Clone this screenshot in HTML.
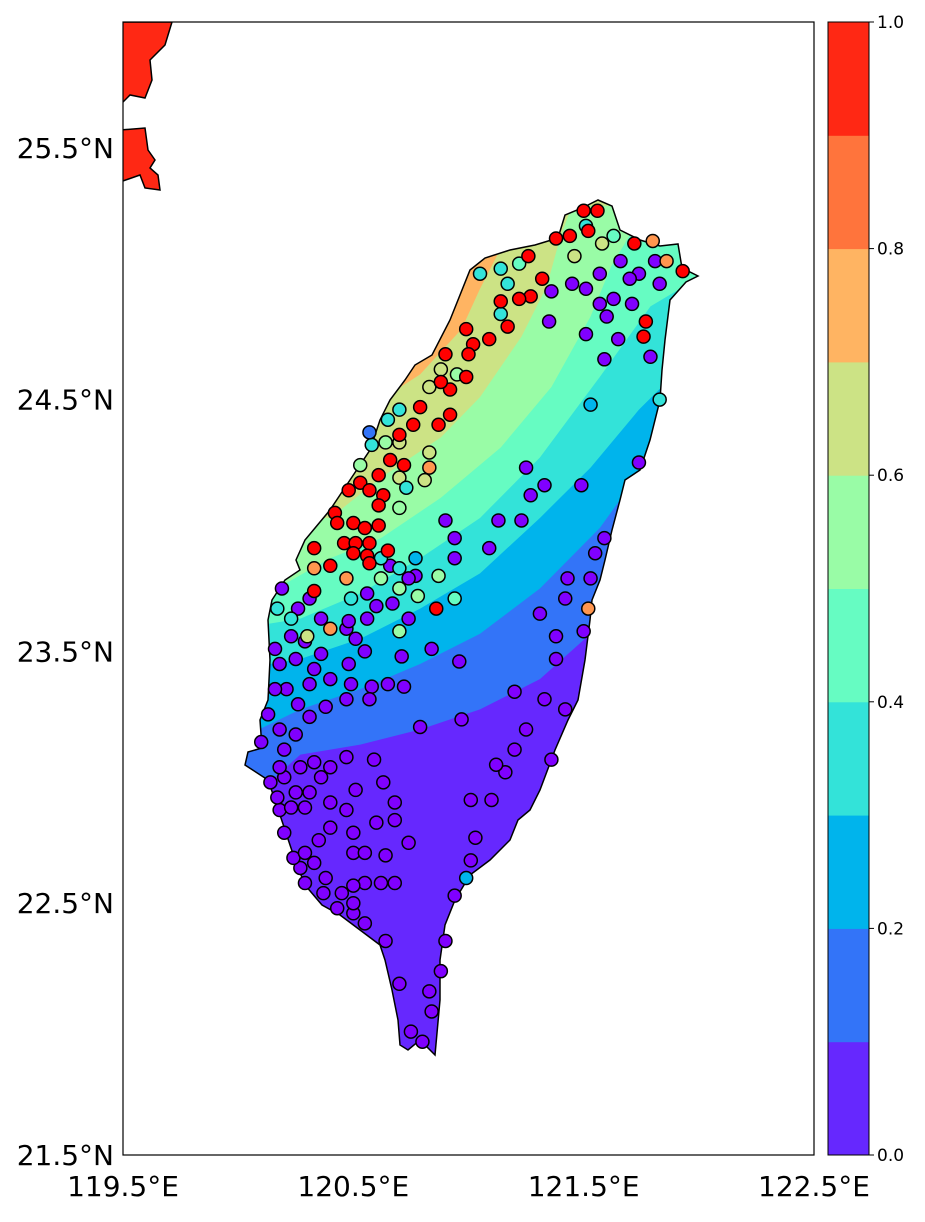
<!DOCTYPE html>
<html><head><meta charset="utf-8"><style>
body{margin:0;background:#fff}
svg text{font-family:"DejaVu Sans","Liberation Sans",sans-serif}
</style></head><body>
<svg id="s" width="925" height="1217" viewBox="0 0 925 1217" xmlns="http://www.w3.org/2000/svg">
<defs>
<clipPath id="tw"><path id="twp" d="M582,208 L598,200 L612,206 L620,230 L640,240 L660,246 L678,244 L682,268 L698,276 L686,282 L670,300 L665,340 L662,370 L660,400 L650,440 L640,470 L625,480 L620,500 L612,530 L605,560 L600,580 L592,600 L590,620 L585,660 L578,700 L568,720 L555,750 L540,790 L530,810 L518,820 L510,840 L490,860 L470,875 L455,900 L445,925 L440,960 L440,1000 L435,1055 L420,1040 L408,1050 L400,1045 L398,1020 L392,990 L385,960 L380,945 L360,930 L340,915 L322,905 L305,885 L295,860 L285,830 L275,800 L268,780 L245,765 L248,752 L262,748 L260,720 L268,700 L270,660 L268,620 L272,600 L285,580 L300,570 L296,560 L305,540 L330,510 L350,480 L370,450 L380,420 L390,400 L405,380 L415,365 L432,355 L450,320 L460,295 L470,270 L485,258 L510,250 L535,245 L558,238 L565,215 Z"/></clipPath>
<clipPath id="ax"><rect x="123" y="22" width="691" height="1133"/></clipPath>
</defs>
<g id="bands" clip-path="url(#tw)"></g>
<use href="#twp" fill="none" stroke="#000" stroke-width="1.5"/>
<g clip-path="url(#ax)">
<path d="M120,22 L172,22 L165,45 L150,60 L152,80 L145,98 L130,95 L123,102 L120,102 Z" fill="#ff2814" stroke="#000" stroke-width="1.5"/>
<path d="M120,130 L145,128 L148,150 L155,160 L150,168 L158,175 L160,190 L145,188 L140,175 L120,182 Z" fill="#ff2814" stroke="#000" stroke-width="1.5"/>
</g>
<g id="dots"></g>
<rect x="123" y="22" width="691" height="1133" fill="none" stroke="#000" stroke-width="1.2"/>
<g id="axes"></g>
<g id="cbar"></g>
</svg>
<script>
const levels=[0,0.1,0.2,0.3,0.4,0.5,0.6,0.7,0.8,0.9,1.0];
const latTicks=[25.5,24.5,23.5,22.5,21.5];
const lonTicks=[119.5,120.5,121.5,122.5];
const cbarTicks=[0,0.2,0.4,0.6,0.8,1.0];
// contour boundaries (lon,lat) for level 0.1..0.7
const bounds=[
[[120.0,22.87],[120.27,23.09],[120.53,23.13],[120.79,23.19],[121.05,23.27],[121.31,23.39],[121.53,23.57],[121.57,23.63]],
[[120.0,23.15],[120.27,23.27],[120.53,23.35],[120.79,23.45],[121.05,23.57],[121.31,23.75],[121.57,23.99],[121.79,24.27],[121.92,24.43]],
[[120.0,23.43],[120.27,23.47],[120.53,23.55],[120.79,23.67],[121.05,23.81],[121.31,24.03],[121.53,24.23],[121.74,24.46],[121.96,24.66]],
[[120.0,23.59],[120.27,23.63],[120.53,23.73],[120.79,23.87],[121.05,24.03],[121.31,24.27],[121.57,24.59],[121.79,24.87],[122.01,24.99],[122.1,24.99]],
[[120.09,23.71],[120.40,23.87],[120.62,23.95],[120.88,24.11],[121.14,24.31],[121.36,24.55],[121.53,24.83],[121.62,25.03],[121.75,25.23],[121.8,25.43]],
[[120.40,24.03],[120.62,24.19],[120.88,24.35],[121.05,24.51],[121.23,24.75],[121.34,24.95],[121.40,25.15],[121.45,25.27]],
[[120.62,24.50],[120.79,24.60],[120.97,24.78],[121.05,24.94],[121.14,25.10],[121.18,25.6]]
];
// station data
const redPts=[[121.50,25.25],[121.56,25.25],[121.52,25.17],[121.44,25.15],[121.38,25.14],[121.26,25.07],[121.32,24.98],[121.27,24.91],[121.22,24.90],[121.14,24.89],[121.17,24.79],[121.09,24.74],[121.02,24.72],[120.99,24.78],[120.90,24.68],[121.00,24.68],[120.99,24.59],[120.92,24.54],[120.88,24.57],[120.79,24.47],[120.76,24.40],[120.87,24.40],[120.70,24.36],[120.66,24.26],[120.72,24.24],[120.61,24.20],[120.53,24.17],[120.48,24.14],[120.57,24.14],[120.63,24.12],[120.61,24.08],[120.42,24.05],[120.43,24.01],[120.50,24.01],[120.55,23.99],[120.61,24.00],[120.46,23.93],[120.51,23.93],[120.57,23.93],[120.65,23.90],[120.56,23.88],[120.50,23.89],[120.57,23.85],[120.33,23.91],[120.40,23.84],[120.33,23.74],[120.86,23.67],[120.92,24.44],[121.72,25.12],[121.77,24.81],[121.76,24.75],[121.93,25.01]];
const otherPts=[[121.86,25.05,0.8],[121.80,25.13,0.8],[120.83,24.23,0.8],[120.47,23.79,0.8],[120.40,23.59,0.8],[120.33,23.83,0.8],[121.52,23.67,0.8],
[121.46,25.07,0.65],[121.58,25.12,0.65],[120.88,24.62,0.65],[120.95,24.60,0.55],[120.83,24.55,0.65],[120.70,24.33,0.65],[120.64,24.33,0.55],[120.83,24.29,0.65],[120.81,24.18,0.65],[120.70,24.19,0.65],[120.70,24.07,0.55],[120.53,24.24,0.55],[120.62,23.79,0.55],[120.70,23.75,0.55],[120.78,23.72,0.55],[120.30,23.56,0.65],[120.70,23.58,0.55],[120.87,23.80,0.55],[120.94,23.71,0.45],
[121.05,25.00,0.35],[121.22,25.04,0.45],[121.14,25.02,0.35],[121.17,24.96,0.35],[121.14,24.84,0.35],[121.51,25.19,0.35],[121.63,25.15,0.45],[120.65,24.42,0.35],[120.70,24.46,0.35],[120.58,24.32,0.35],[120.73,24.15,0.35],[120.62,23.87,0.35],[120.70,23.83,0.35],[120.49,23.71,0.35],[120.23,23.63,0.35],[120.17,23.67,0.35],[121.83,24.50,0.35],
[121.53,24.48,0.25],[120.77,23.87,0.25],[120.57,24.37,0.15],[120.99,22.60,0.25]];
const purplePts=[[121.57,25.00],[121.66,25.05],[121.74,25.00],[121.81,25.05],[121.83,24.96],[121.70,24.98],[121.63,24.90],[121.57,24.88],[121.60,24.83],[121.71,24.88],[121.51,24.94],[121.45,24.96],[121.36,24.93],[121.35,24.81],[121.51,24.76],[121.59,24.66],[121.65,24.74],[121.79,24.67],[121.74,24.25],[121.49,24.16],[121.33,24.16],[121.27,24.12],[121.23,24.02],[121.13,24.02],[121.09,23.91],[120.94,23.87],[120.94,23.95],[120.90,24.02],[120.77,23.80],[120.84,23.51],[120.71,23.48],[120.72,23.36],[120.65,23.37],[120.96,23.46],[120.79,23.20],[120.97,23.23],[121.25,24.23],[121.42,23.71],[121.50,23.58],[121.38,23.56],[121.53,23.79],[121.55,23.89],[121.59,23.95],[121.43,23.79],[121.31,23.65],[121.38,23.47],[121.33,23.31],[121.20,23.34],[121.42,23.27],[121.25,23.19],[121.20,23.11],[121.16,23.02],[121.12,23.05],[121.10,22.91],[121.01,22.91],[121.36,23.07],[121.03,22.76],[121.01,22.67],[120.94,22.53],[120.90,22.35],[120.88,22.23],[120.83,22.15],[120.84,22.07],[120.75,21.99],[120.80,21.95],[120.70,22.18],[120.64,22.35],[120.55,22.42],[120.50,22.46],[120.43,22.48],[120.37,22.54],[120.29,22.58],[120.27,22.64],[120.24,22.68],[120.20,22.78],[120.18,22.87],[120.17,22.92],[120.14,22.98],[120.20,23.00],[120.27,23.04],[120.33,23.06],[120.36,23.00],[120.47,23.08],[120.40,23.04],[120.31,22.94],[120.25,22.94],[120.23,22.88],[120.29,22.88],[120.40,22.90],[120.40,22.80],[120.47,22.87],[120.51,22.95],[120.63,22.98],[120.59,23.07],[120.68,22.90],[120.68,22.83],[120.60,22.82],[120.50,22.78],[120.50,22.70],[120.55,22.70],[120.64,22.69],[120.74,22.74],[120.68,22.58],[120.62,22.58],[120.55,22.58],[120.50,22.57],[120.50,22.50],[120.45,22.54],[120.38,22.60],[120.33,22.66],[120.29,22.70],[120.35,22.75],[120.18,23.04],[120.20,23.11],[120.10,23.14],[120.13,23.25],[120.18,23.19],[120.25,23.17],[120.31,23.24],[120.38,23.28],[120.26,23.29],[120.21,23.35],[120.25,23.47],[120.29,23.54],[120.36,23.49],[120.33,23.43],[120.40,23.39],[120.48,23.45],[120.49,23.37],[120.58,23.36],[120.57,23.31],[120.47,23.31],[120.31,23.37],[120.16,23.35],[120.18,23.45],[120.16,23.51],[120.36,23.63],[120.47,23.59],[120.51,23.55],[120.55,23.50],[120.48,23.62],[120.56,23.63],[120.56,23.73],[120.60,23.68],[120.67,23.69],[120.74,23.63],[120.74,23.79],[120.66,23.84],[120.23,23.56],[120.26,23.67],[120.31,23.71],[120.19,23.75]];

const NS='http://www.w3.org/2000/svg';
const X=lon=>123+(lon-119.5)*230.33;
const Y=lat=>1155-(lat-21.5)*251.8;
function rainbow(v){const r=Math.min(1,Math.abs(2*v-0.5)),g=Math.sin(Math.PI*v),b=Math.cos(Math.PI*v/2);
return `rgb(${Math.round(r*255)},${Math.round(g*255)},${Math.round(b*255)})`;}
function mk(t,a,p){const e=document.createElementNS(NS,t);for(const k in a)e.setAttribute(k,a[k]);p.appendChild(e);return e;}
const bandsG=document.getElementById('bands');
let r=mk('rect',{x:0,y:0,width:925,height:1217,fill:rainbow((levels[0]+levels[1])/2)},bandsG);


bounds.forEach((b,i)=>{
  const pts=b.map(p=>[X(p[0]),Y(p[1])]);
  const last=pts[pts.length-1],first=pts[0];
  const all=[[0,first[1]],...pts,[925,last[1]],[925,0],[0,0]];
  const e=mk('polygon',{points:all.map(p=>p.join(',')).join(' '),fill:rainbow((levels[i+1]+levels[i+2])/2)},bandsG);
  
  
});
const dotsG=document.getElementById('dots');
function dot(lon,lat,v){const c=mk('circle',{cx:X(lon),cy:Y(lat),r:6.5,fill:rainbow(v),stroke:'#000','stroke-width':1.5},dotsG);

}
purplePts.forEach(p=>dot(p[0],p[1],0));
otherPts.forEach(p=>dot(p[0],p[1],p[2]));
redPts.forEach(p=>dot(p[0],p[1],1));
const axG=document.getElementById('axes');
latTicks.forEach(t=>{const y=Y(t);
 const e=mk('text',{x:114,y:y+10,'text-anchor':'end','font-size':28},axG);e.textContent=t.toFixed(1)+'°N';
 
 });
lonTicks.forEach(t=>{const x=X(t);
 const e=mk('text',{x:x,y:1196,'text-anchor':'middle','font-size':28},axG);e.textContent=t.toFixed(1)+'°E';
 
 });
const cb=document.getElementById('cbar');
const CY=v=>1155-v*1133;
for(let i=0;i<levels.length-1;i++){const e=mk('rect',{x:828,y:CY(levels[i+1]),width:41,height:CY(levels[i])-CY(levels[i+1])+0.5,fill:rainbow((levels[i]+levels[i+1])/2)},cb);
 
 }
mk('rect',{x:828,y:22,width:41,height:1133,fill:'none',stroke:'#000','stroke-width':1},cb);
cbarTicks.forEach(t=>{const y=CY(t);
 mk('line',{x1:869,x2:874,y1:y,y2:y,stroke:'#000'},cb);
 const e=mk('text',{x:877,y:y+6,'font-size':17},cb);e.textContent=t.toFixed(1);
 
 });
</script>
</body></html>
